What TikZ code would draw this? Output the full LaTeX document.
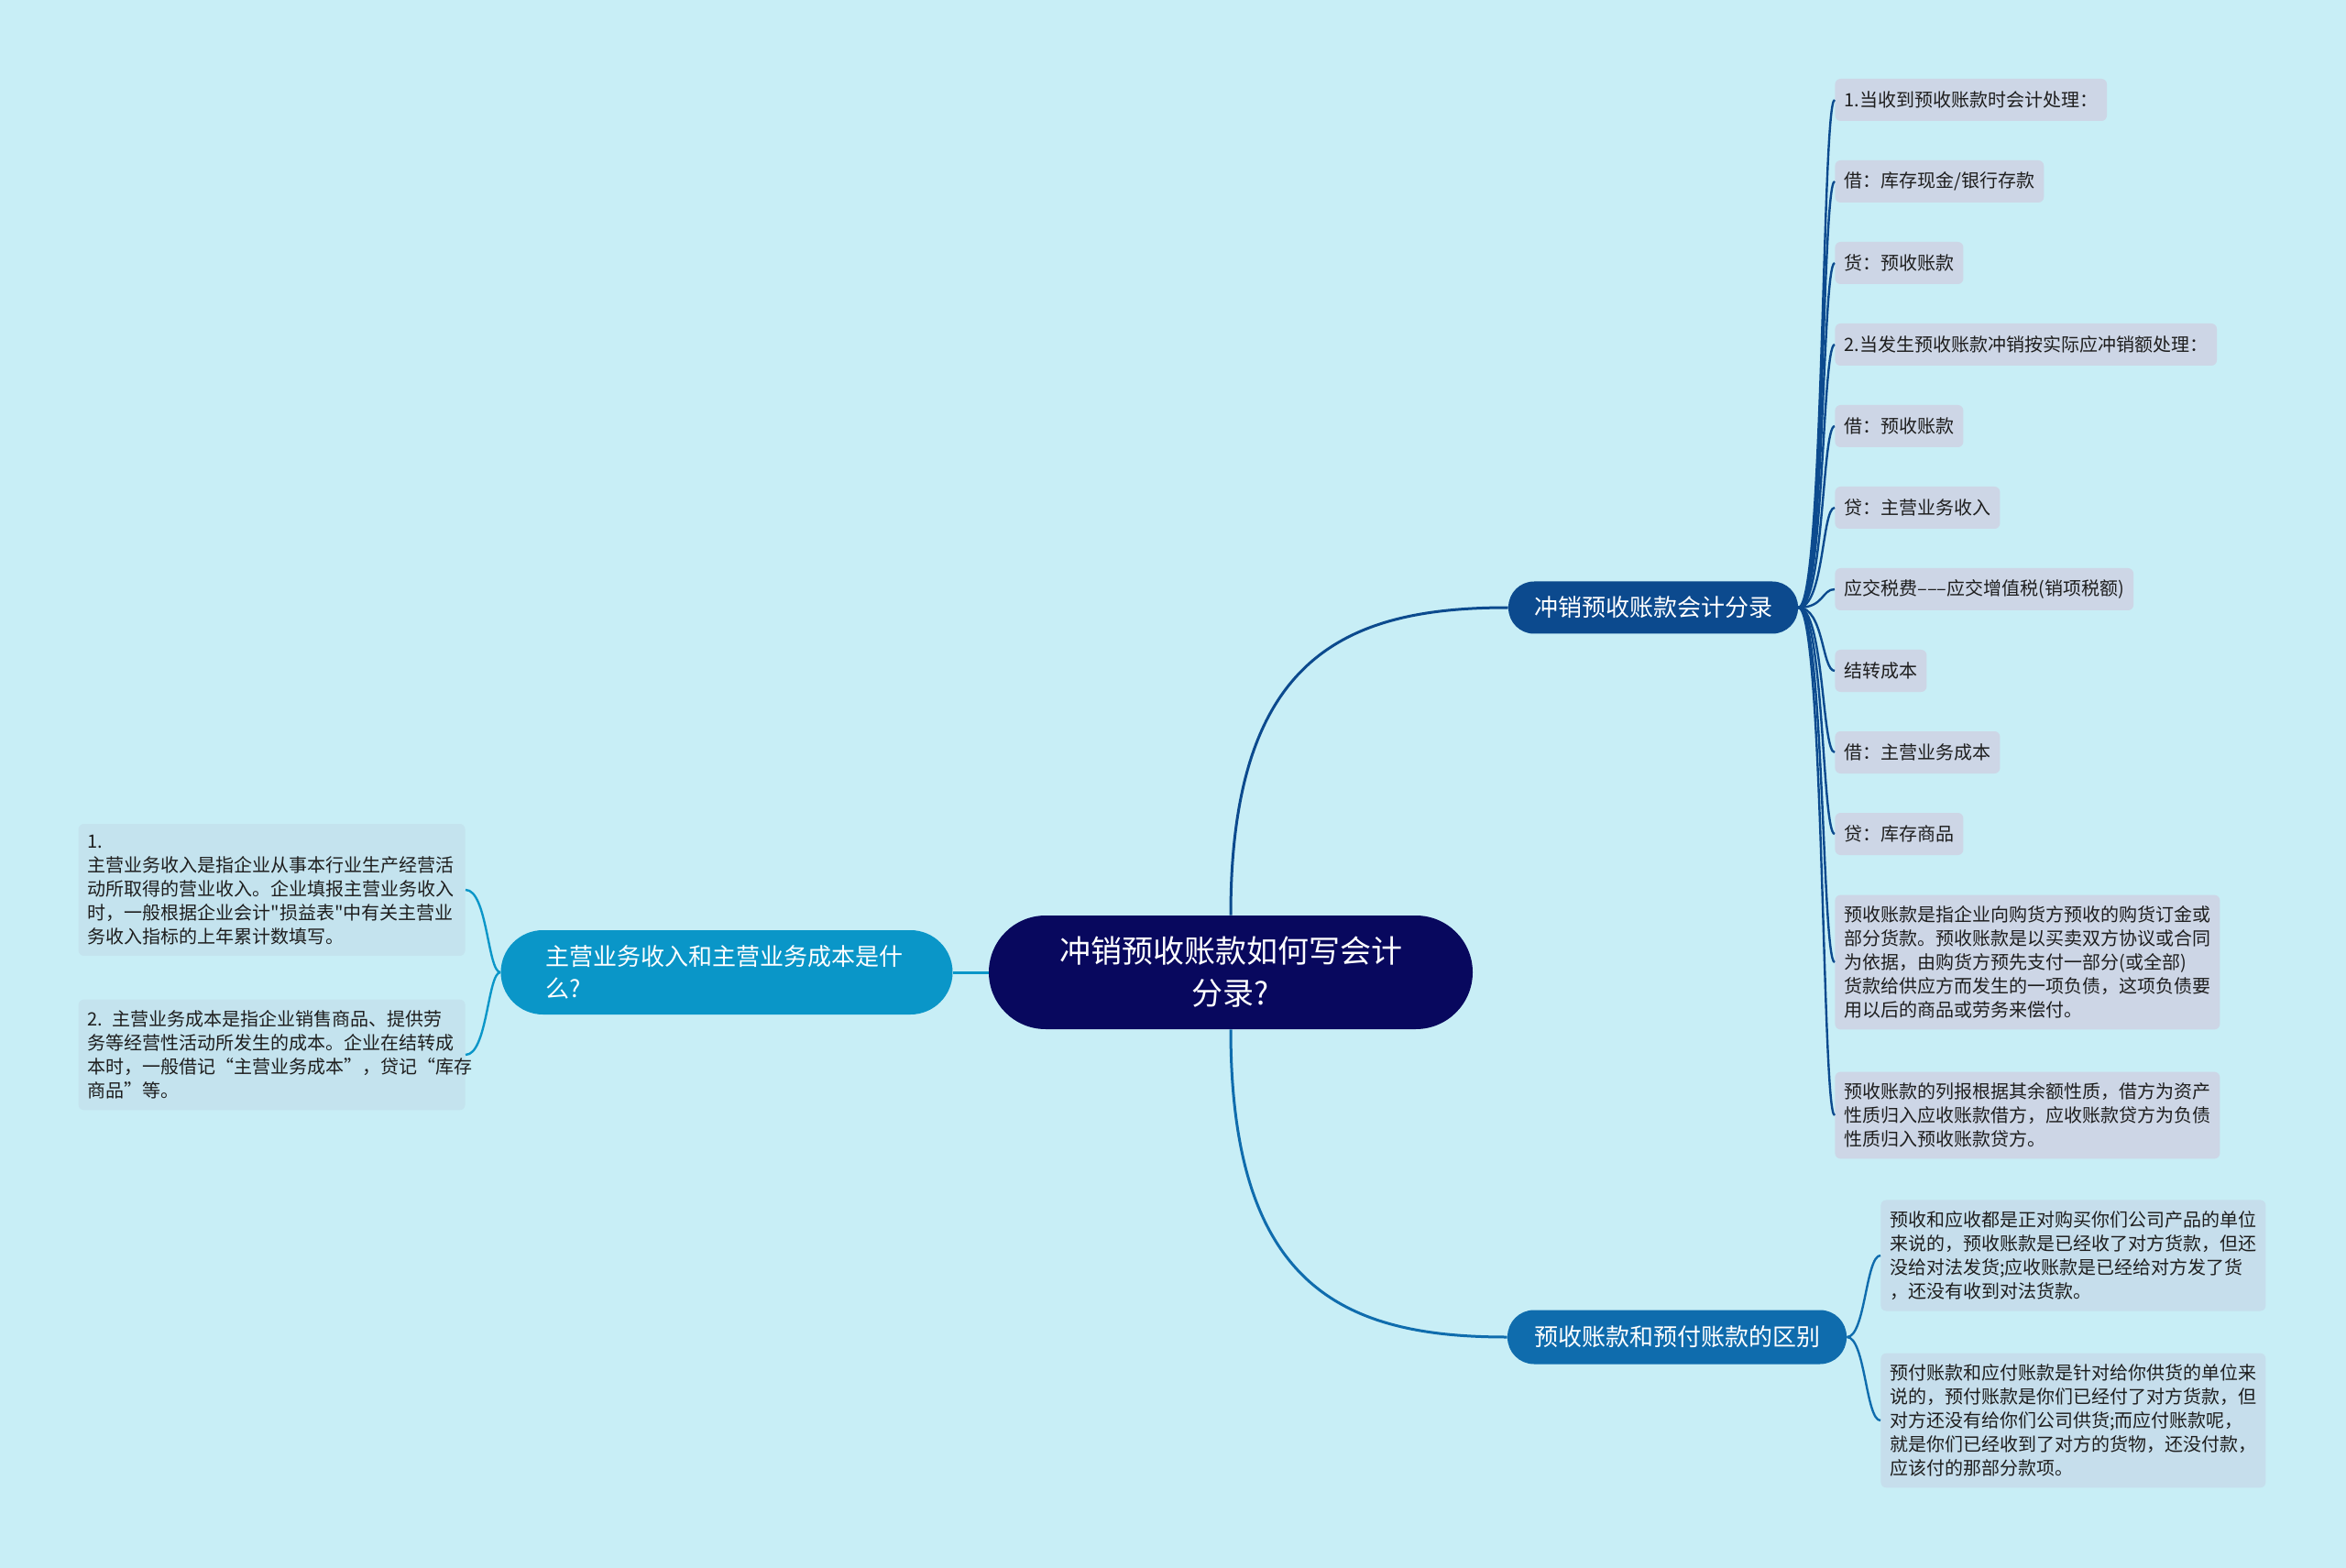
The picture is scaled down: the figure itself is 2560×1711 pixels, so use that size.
\documentclass[tikz,border=0pt]{standalone}
\usepackage{fontspec}
\setmainfont{Noto Sans CJK SC}[Ligatures=TeXOff]
\definecolor{bg}{HTML}{C8EEF6}
\definecolor{navy}{HTML}{08085E}
\definecolor{rblue}{HTML}{0C4A8E}
\definecolor{lblue}{HTML}{0A96C8}
\definecolor{mblue}{HTML}{0F6CAD}
\definecolor{leafA}{HTML}{CDD6E6}
\definecolor{leafB}{HTML}{C6DEEC}
\definecolor{leafC}{HTML}{C4E3EE}
\definecolor{ink}{HTML}{1E1E1E}
\begin{document}
\begin{tikzpicture}[x=0.5pt, y=-0.5pt, main/.style={fill=navy, text=white, rounded corners=31pt, minimum width=264pt, minimum height=62pt, align=center, font=\fontsize{17pt}{23pt}\selectfont}, sub/.style={text=white, minimum height=28.5pt, font=\fontsize{13pt}{17.5pt}\selectfont}, info/.style={rectangle, rounded corners=3pt, text=ink, inner xsep=5pt, inner ysep=6pt, minimum height=23pt, align=left, font=\fontsize{10pt}{13pt}\selectfont}, n/.style={line width=1.5pt}, e/.style={line width=1.2pt}]
            \fill[bg] (0,0) rectangle (2560,1711);
            \useasboundingbox (0,0) rectangle (2560,1711);
            % nodes
            \node[main] (c) at (1343,1061) {冲销预收账款如何写会计\\分录?};
            \node[sub, fill=lblue, rounded corners=23pt, minimum width=246.5pt, minimum height=46pt, align=left, text width=198pt] (l) at (793,1061) {主营业务收入和主营业务成本是什\\么?};
            \node[sub, fill=rblue, rounded corners=14pt, minimum width=158pt] (r) at (1804,663) {冲销预收账款会计分录};
            \node[sub, fill=mblue, rounded corners=14.5pt, minimum width=185pt, minimum height=29.5pt] (b) at (1830,1459) {预收账款和预付账款的区别};
            \node[info, fill=leafA, anchor=west] (r1) at (2002,109) {1.当收到预收账款时会计处理：};
            \node[info, fill=leafA, anchor=west] (r2) at (2002,198) {借：库存现金/银行存款};
            \node[info, fill=leafA, anchor=west] (r3) at (2002,287) {货：预收账款};
            \node[info, fill=leafA, anchor=west] (r4) at (2002,376) {2.当发生预收账款冲销按实际应冲销额处理：};
            \node[info, fill=leafA, anchor=west] (r5) at (2002,465) {借：预收账款};
            \node[info, fill=leafA, anchor=west] (r6) at (2002,554) {贷：主营业务收入};
            \node[info, fill=leafA, anchor=west] (r7) at (2002,643) {应交税费–––应交增值税(销项税额)};
            \node[info, fill=leafA, anchor=west] (r8) at (2002,732) {结转成本};
            \node[info, fill=leafA, anchor=west] (r9) at (2002,821) {借：主营业务成本};
            \node[info, fill=leafA, anchor=west] (r10) at (2002,910) {贷：库存商品};
            \node[info, fill=leafA, anchor=west] (r11) at (2002,1050) {预收账款是指企业向购货方预收的购货订金或\\部分货款。预收账款是以买卖双方协议或合同\\为依据，由购货方预先支付一部分(或全部)\\货款给供应方而发生的一项负债，这项负债要\\用以后的商品或劳务来偿付。};
            \node[info, fill=leafA, anchor=west] (r12) at (2002,1217) {预收账款的列报根据其余额性质，借方为资产\\性质归入应收账款借方，应收账款贷方为负债\\性质归入预收账款贷方。};
            \node[info, fill=leafB, anchor=west] (b1) at (2052,1370) {预收和应收都是正对购买你们公司产品的单位\\来说的，预收账款是已经收了对方货款，但还\\没给对法发货;应收账款是已经给对方发了货\\，还没有收到对法货款。};
            \node[info, fill=leafB, anchor=west] (b2) at (2052,1550) {预付账款和应付账款是针对给你供货的单位来\\说的，预付账款是你们已经付了对方货款，但\\对方还没有给你们公司供货;而应付账款呢，\\就是你们已经收到了对方的货物，还没付款，\\应该付的那部分款项。};
            \node[info, fill=leafC, anchor=east, text width=201pt] (l1) at (508,971) {1.\\主营业务收入是指企业从事本行业生产经营活\\动所取得的营业收入。企业填报主营业务收入\\时，一般根据企业会计"损益表"中有关主营业\\务收入指标的上年累计数填写。};
            \node[info, fill=leafC, anchor=east, text width=201pt] (l2) at (508,1151) {2. 主营业务成本是指企业销售商品、提供劳\\务等经营性活动所发生的成本。企业在结转成\\本时，一般借记“主营业务成本”，贷记“库存\\商品”等。};
            % edges
            \draw[n, rblue] (c.north) .. controls +(0,-280) and +(-180,0) .. (r.west);
            \draw[n, mblue] (c.south) .. controls +(0,280) and +(-180,0) .. (b.west);
            \draw[n, lblue] (c.west) -- (l.east);
            \draw[e, rblue] (r.east) .. controls +(28,0) and +(-14,0) .. (r1.west);
            \draw[e, rblue] (r.east) .. controls +(28,0) and +(-14,0) .. (r2.west);
            \draw[e, rblue] (r.east) .. controls +(28,0) and +(-14,0) .. (r3.west);
            \draw[e, rblue] (r.east) .. controls +(28,0) and +(-14,0) .. (r4.west);
            \draw[e, rblue] (r.east) .. controls +(28,0) and +(-14,0) .. (r5.west);
            \draw[e, rblue] (r.east) .. controls +(28,0) and +(-14,0) .. (r6.west);
            \draw[e, rblue] (r.east) .. controls +(28,0) and +(-14,0) .. (r7.west);
            \draw[e, rblue] (r.east) .. controls +(28,0) and +(-14,0) .. (r8.west);
            \draw[e, rblue] (r.east) .. controls +(28,0) and +(-14,0) .. (r9.west);
            \draw[e, rblue] (r.east) .. controls +(28,0) and +(-14,0) .. (r10.west);
            \draw[e, rblue] (r.east) .. controls +(28,0) and +(-14,0) .. (r11.west);
            \draw[e, rblue] (r.east) .. controls +(28,0) and +(-14,0) .. (r12.west);
            \draw[e, mblue] (b.east) .. controls +(20,0) and +(-16,0) .. (b1.west);
            \draw[e, mblue] (b.east) .. controls +(20,0) and +(-16,0) .. (b2.west);
            \draw[e, lblue] (l.west) .. controls +(-14,0) and +(24,0) .. (l1.east);
            \draw[e, lblue] (l.west) .. controls +(-14,0) and +(24,0) .. (l2.east);
        \end{tikzpicture}
\end{document}
